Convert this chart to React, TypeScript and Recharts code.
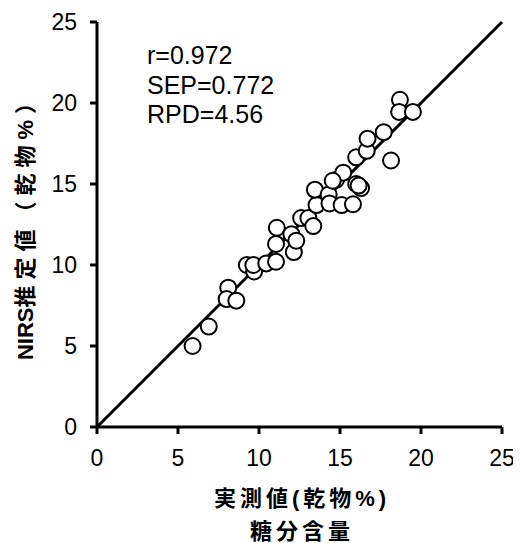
import React from "react";
import { ScatterChart, Scatter, XAxis, YAxis } from "recharts";

const measured = [5.9, 6.9, 8.1, 8.0, 8.6, 9.25, 9.7, 9.65, 10.45, 11.05, 11.05, 11.1, 12.0, 12.15, 12.3, 12.6, 13.05, 13.35, 13.55, 13.45, 14.3, 14.35, 14.75, 15.1, 15.2, 15.8, 16.0, 16.3, 16.0, 16.65, 16.7, 17.7, 18.15, 18.7, 18.65, 19.5, 14.55, 16.15];
const predicted = [5.0, 6.2, 8.6, 7.9, 7.8, 10.0, 9.6, 10.0, 10.1, 10.2, 11.3, 12.3, 11.9, 10.8, 11.5, 12.9, 12.9, 12.4, 13.7, 14.65, 14.35, 13.8, 15.25, 13.7, 15.7, 13.75, 15.0, 14.75, 16.65, 17.05, 17.8, 18.2, 16.45, 20.2, 19.45, 19.45, 15.2, 14.9];
const ticks = [0, 5, 10, 15, 20, 25];
const diagX = [0, 25];
const statLines = ["r=0.972", "SEP=0.772", "RPD=4.56"];
const xLabel1 = "実測値(乾物%)";
const xLabel2 = "糖分含量";
const yLabelA = "NIRS";
const yLabelB = "推定値（乾物%）";

const points = measured.map((x, i) => ({ x, y: predicted[i] }));
const diag = diagX.map((v) => ({ x: v, y: v }));

const W = 513;
const H = 535;
const font = "'Liberation Sans', Arial, sans-serif";
const cjk = "'Liberation Sans', 'Noto Sans CJK JP', sans-serif";

const Circle = (props: any) => (
  <circle cx={props.cx} cy={props.cy} r={8} fill="#fff" stroke="#000" strokeWidth={2} />
);
const NoShape = () => <g />;

export default function App() {
  return (
    <div style={{ position: "relative", width: W, height: H }}>
      <ScatterChart width={W} height={H} margin={{ top: 14, right: 19, left: 0, bottom: 0 }}>
        <XAxis
          type="number"
          dataKey="x"
          domain={[0, 25]}
          ticks={ticks}
          height={116}
          tickSize={7}
          tickMargin={16}
          axisLine={{ stroke: "#000", strokeWidth: 3 }}
          tickLine={{ stroke: "#000", strokeWidth: 3 }}
          tick={{ fill: "#000", fontSize: 23, fontFamily: font }}
          interval={0}
        />
        <YAxis
          type="number"
          dataKey="y"
          domain={[0, 25]}
          ticks={ticks}
          width={89}
          tickSize={7}
          tickMargin={13}
          axisLine={{ stroke: "#000", strokeWidth: 3 }}
          tickLine={{ stroke: "#000", strokeWidth: 3 }}
          tick={{ fill: "#000", fontSize: 23, fontFamily: font }}
          interval={0}
        />
        <Scatter
          data={diag}
          line={{ stroke: "#000", strokeWidth: 3 }}
          shape={NoShape}
          isAnimationActive={false}
        />
        <Scatter data={points} shape={Circle} isAnimationActive={false} />
      </ScatterChart>
      <svg
        width={W}
        height={H}
        style={{ position: "absolute", left: 0, top: 0, pointerEvents: "none" }}
      >
        {statLines.map((s, i) => (
          <text key={s} x={139} y={56 + i * 29.5} fontSize={25} fontFamily={font} fill="#000">
            {s}
          </text>
        ))}
        <text x={294} y={498} textAnchor="middle" fontSize={22} fontWeight="bold" fontFamily={cjk} letterSpacing={4} fill="#000">
          {xLabel1}
        </text>
        <text x={294} y={531} textAnchor="middle" fontSize={22} fontWeight="bold" fontFamily={cjk} letterSpacing={4} fill="#000">
          {xLabel2}
        </text>
        <text
          x={17}
          y={215}
          transform="rotate(-90 17 215)"
          textAnchor="middle"
          dominantBaseline="central"
          fontSize={22}
          fontWeight="bold"
          fontFamily={cjk}
          fill="#000"
        >
          <tspan>{yLabelA}</tspan>
          <tspan letterSpacing={6}>{yLabelB}</tspan>
        </text>
      </svg>
    </div>
  );
}
